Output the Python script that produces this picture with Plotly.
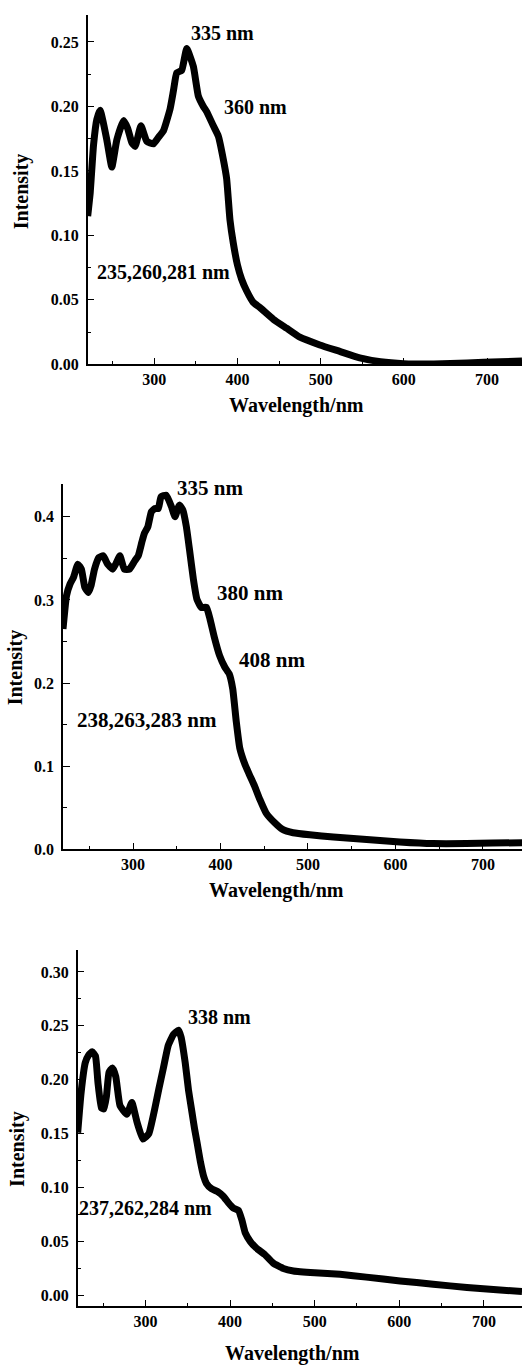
import plotly.graph_objects as go

# ---------------- data ----------------
wl_a = [220, 223, 227, 231, 235, 243, 249, 255, 263, 268, 273, 277, 284, 291, 299,
        305, 311, 319, 323, 327, 333, 339, 347, 353, 359, 363, 371, 377, 383, 387,
        391, 395, 400, 405, 411, 419, 427, 443, 459, 475, 499, 523, 547, 572,
        600, 636, 676, 716, 742]
int_a = [0.115, 0.133, 0.170, 0.190, 0.197, 0.174, 0.153, 0.174, 0.189, 0.183, 0.172, 0.169,
         0.185, 0.173, 0.171, 0.176, 0.181, 0.198, 0.212, 0.226, 0.228, 0.245, 0.231, 0.208,
         0.200, 0.196, 0.185, 0.177, 0.159, 0.144, 0.112, 0.094,
         0.077, 0.066, 0.057, 0.048, 0.044, 0.035, 0.028, 0.021, 0.015, 0.010, 0.005, 0.002,
         0.0005, 0.0002, 0.001, 0.002, 0.0025]

wl_b = [220, 224, 228, 232, 237, 241, 245, 249, 252, 256, 261, 266, 271, 277, 285, 290,
        296, 302, 306, 310, 313, 317, 321, 325, 329, 332, 338, 344, 348, 353, 357, 361,
        365, 369, 373, 378, 384, 388, 393, 399, 405, 410, 414, 418, 422, 428, 433, 439,
        445, 452, 462, 471, 483, 502, 529, 567, 605, 643, 681, 711, 745]
int_b = [0.265, 0.305, 0.319, 0.327, 0.343, 0.337, 0.315, 0.309, 0.317, 0.337, 0.351, 0.353,
         0.343, 0.337, 0.353, 0.337, 0.337, 0.347, 0.353, 0.369, 0.380, 0.388, 0.406, 0.410,
         0.410, 0.424, 0.426, 0.412, 0.400, 0.414, 0.408, 0.388, 0.357, 0.325, 0.301, 0.291,
         0.291, 0.277, 0.255, 0.233, 0.219, 0.211, 0.193, 0.154, 0.122, 0.102, 0.090, 0.076,
         0.060, 0.044, 0.032, 0.024, 0.020, 0.0175, 0.015, 0.012, 0.009, 0.007, 0.007, 0.0076,
         0.008]

wl_c = [220, 224, 229, 233, 237, 241, 244, 248, 251, 254, 257, 261, 265, 270, 278,
        284, 290, 297, 304, 311, 316, 321, 327, 333, 339, 342, 347, 351, 355, 358,
        361, 365, 369, 372, 378, 386, 392, 398, 404, 410, 414, 418, 424, 431, 441, 451,
        463, 475, 500, 530, 561, 601, 640, 680, 719, 745]
int_c = [0.151, 0.188, 0.216, 0.223, 0.226, 0.222, 0.197, 0.174, 0.173, 0.185, 0.207, 0.211,
         0.203, 0.176, 0.168, 0.179, 0.161, 0.145, 0.150, 0.173, 0.192, 0.210, 0.232, 0.242,
         0.246, 0.240, 0.216, 0.190, 0.170, 0.155, 0.142, 0.124, 0.110, 0.104,
         0.099, 0.096, 0.092, 0.086, 0.081, 0.079, 0.070, 0.058, 0.050, 0.044, 0.038, 0.030,
         0.025, 0.0227, 0.021, 0.0196, 0.017, 0.0135, 0.0104, 0.0074, 0.005, 0.0037]

labels_a = ["335 nm", "360 nm", "235,260,281 nm"]
labels_b = ["335 nm", "380 nm", "408 nm", "238,263,283 nm"]
labels_c = ["338 nm", "237,262,284 nm"]

x_ticks = [300, 400, 500, 600, 700]
x_title = "Wavelength/nm"
y_title = "Intensity"

# ---------------- styling / layout ----------------
W, H = 522, 1369
FONT = "Liberation Serif, Times New Roman, serif"
LINE_W = 7

fig = go.Figure()
for xs, ys, xa, ya in [(wl_a, int_a, "x", "y"), (wl_b, int_b, "x2", "y2"),
                       (wl_c, int_c, "x3", "y3")]:
    fig.add_trace(go.Scatter(x=xs, y=ys, mode="lines", xaxis=xa, yaxis=ya,
                             line=dict(color="black", width=LINE_W, shape="spline",
                                       smoothing=0.4),
                             showlegend=False, hoverinfo="skip"))

tickfont = dict(family=FONT, size=16, color="black", weight="bold")


def xax(dom_x, rng, anchor):
    return dict(domain=dom_x, range=rng, anchor=anchor, tickvals=x_ticks,
                ticks="inside", ticklen=7, tickwidth=1.3, tickcolor="black",
                minor=dict(dtick=50, tick0=0, ticks="inside", ticklen=4,
                           tickwidth=1.3, tickcolor="black"),
                showline=True, linecolor="black", linewidth=1.5,
                showgrid=False, zeroline=False, tickfont=tickfont, ticklabelstandoff=0)


def yax(dom_y, rng, dtick, fmt, anchor):
    return dict(domain=dom_y, range=rng, anchor=anchor, dtick=dtick, tick0=0,
                tickformat=fmt,
                ticks="inside", ticklen=7, tickwidth=1.3, tickcolor="black",
                minor=dict(dtick=dtick / 2, tick0=0, ticks="inside", ticklen=4,
                           tickwidth=1.3, tickcolor="black"),
                showline=True, linecolor="black", linewidth=1.5,
                showgrid=False, zeroline=False, tickfont=tickfont, ticklabelstandoff=4)


def py(p):
    return 1 - p / H


d1y = [py(366.7), py(15)]
d2y = [py(855), py(486.7)]
d3y = [py(1315), py(956.7)]

fig.update_layout(
    width=W, height=H,
    margin=dict(l=0, r=0, t=0, b=0),
    paper_bgcolor="white", plot_bgcolor="white",
    showlegend=False,
    xaxis=xax([87.7 / W, 1], [220, 742], "y"),
    yaxis=yax(d1y, [0, 0.271], 0.05, ".2f", "x"),
    xaxis2=xax([63 / W, 1], [220, 744.6], "y2"),
    yaxis2=yax(d2y, [0, 0.44], 0.1, ".1f", "x2"),
    xaxis3=xax([77.7 / W, 1], [220, 745], "y3"),
    yaxis3=yax(d3y, [-0.0101, 0.32], 0.05, ".2f", "x3"),
)

ann_font = dict(family=FONT, color="black", weight="bold")


def add_label(text, x, y, xref, yref, size, angle=0):
    fig.add_annotation(text=text, x=x, y=y, xref=xref, yref=yref, showarrow=False,
                       xanchor="center", yanchor="middle", textangle=angle,
                       font=dict(ann_font, size=size))


# peak labels (data coordinates)
for t, x, y in zip(labels_a, [382, 422, 311.6], [0.2567, 0.1997, 0.0717]):
    add_label(t, x, y, "x", "y", 20)
for t, x, y in zip(labels_b, [388, 433.7, 458.9, 316], [0.435, 0.3086, 0.228, 0.155]):
    add_label(t, x, y, "x2", "y2", 21)
for t, x, y in zip(labels_c, [387.4, 300], [0.258, 0.0815]):
    add_label(t, x, y, "x3", "y3", 20)

# axis titles (paper coordinates)
for (px_, py_) in [(296.5, 408), (276, 896.7), (292.5, 1362)]:
    add_label(x_title, px_ / W, py(py_), "paper", "paper", 20)
for (px_, py_) in [(21, 192.5), (15, 671.7), (17.5, 1157)]:
    add_label(y_title, px_ / W, py(py_), "paper", "paper", 20, angle=-90)

fig.write_html("out.html", config={"displayModeBar": False},
               post_script="document.body.style.margin='0';document.body.style.overflow='hidden';")
